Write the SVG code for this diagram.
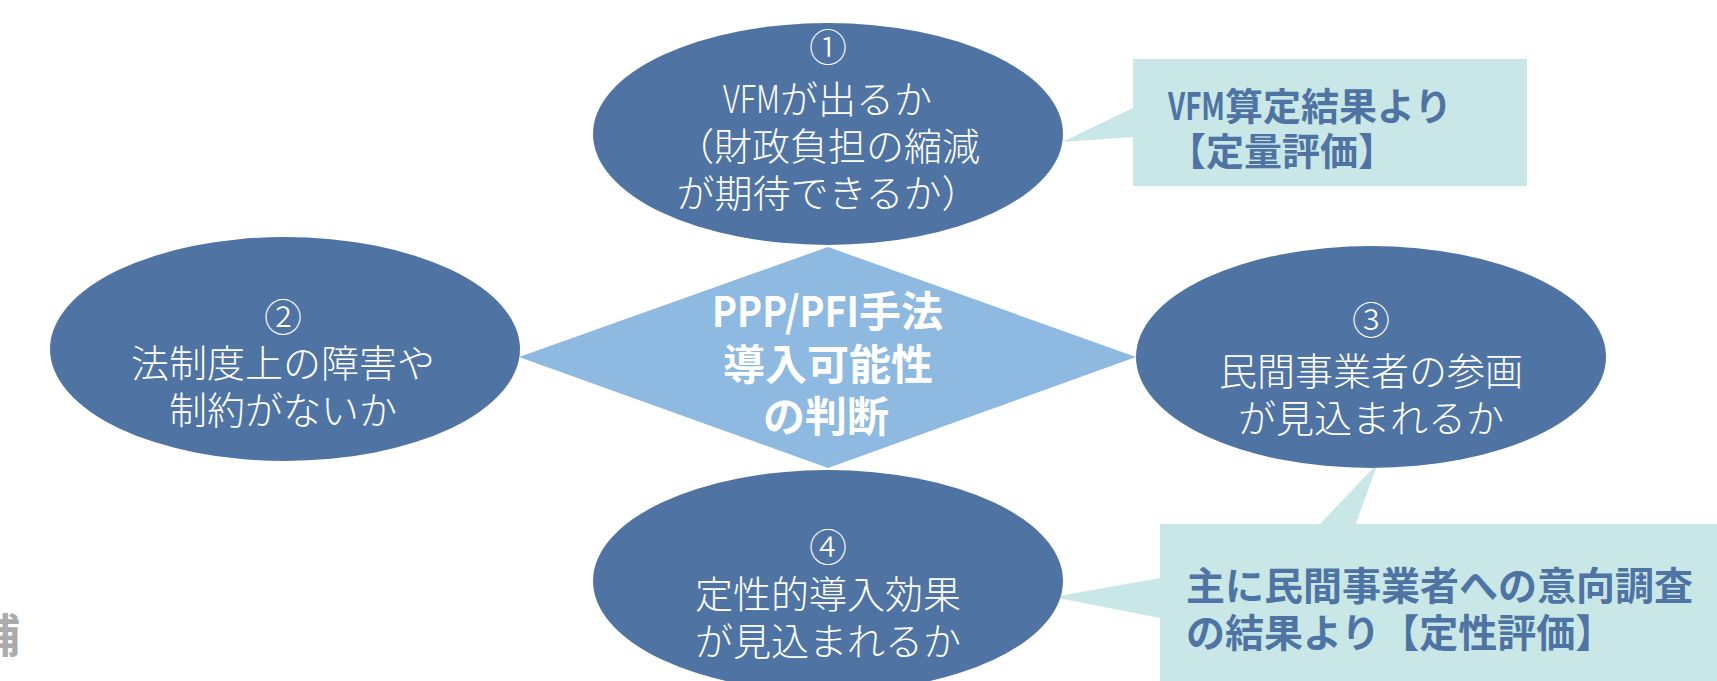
<svg xmlns="http://www.w3.org/2000/svg" width="1717" height="681" viewBox="0 0 1717 681">
<style>
  .ell { fill: #4f74a3; }
  .dia { fill: #8eb9e0; }
  .call { fill: #c9e7e7; }
  .et { font-family: "Noto Sans CJK JP", sans-serif; font-size: 38px; font-weight: 300; fill: #ffffff; text-anchor: middle; }
  .dt { font-family: "Noto Sans CJK JP", sans-serif; font-size: 42px; font-weight: bold; fill: #ffffff; text-anchor: middle; }
  .ct { font-family: "Noto Sans CJK JP", sans-serif; font-weight: bold; fill: #4f74a3; }
  .gray { font-family: "Noto Sans CJK JP", sans-serif; font-size: 46px; font-weight: bold; fill: #ababab; }
</style>
<rect width="1717" height="681" fill="#ffffff"/>

<g id="edge-text">
  <text class="gray" x="-26" y="652">補</text>
</g>

<g id="callout-1">
  <polygon class="call" points="1133,108 1062,142 1133,137"/>
  <rect class="call" x="1133" y="59" width="394" height="127"/>
  <text class="ct" font-size="38" x="1168" y="120"><tspan textLength="57" lengthAdjust="spacingAndGlyphs">VFM</tspan>算定結果より</text>
  <text class="ct" font-size="38" x="1168" y="165">【定量評価】</text>
</g>

<g id="callout-2">
  <polygon class="call" points="1378,463 1318,526 1355,526"/>
  <polygon class="call" points="1160,578 1053,597 1160,618"/>
  <rect class="call" x="1160" y="524" width="560" height="160"/>
  <text class="ct" font-size="39" x="1186" y="600">主に民間事業者への意向調査</text>
  <text class="ct" font-size="39" x="1186" y="647">の結果より【定性評価】</text>
</g>

<g id="center-diamond">
  <polygon class="dia" points="828,247 1136,357 828,468 519,357"/>
  <text class="dt" x="712" y="327" style="text-anchor:start"><tspan textLength="147" lengthAdjust="spacingAndGlyphs">PPP/PFI</tspan>手法</text>
  <text class="dt" x="828" y="380">導入可能性</text>
  <text class="dt" x="826" y="432">の判断</text>
</g>

<g id="node-1">
  <ellipse class="ell" cx="828" cy="134" rx="235" ry="111"/>
  <text class="et" x="828" y="61">①</text>
  <text class="et" x="723" y="113" style="text-anchor:start"><tspan textLength="57" lengthAdjust="spacingAndGlyphs">VFM</tspan>が出るか</text>
  <text class="et" x="828" y="160">（財政負担の縮減</text>
  <text class="et" x="828" y="207">が期待できるか）</text>
</g>

<g id="node-2">
  <ellipse class="ell" cx="285" cy="349" rx="235" ry="112"/>
  <text class="et" x="283" y="331">②</text>
  <text class="et" x="283" y="377">法制度上の障害や</text>
  <text class="et" x="283" y="424">制約がないか</text>
</g>

<g id="node-3">
  <ellipse class="ell" cx="1371" cy="357" rx="235" ry="111"/>
  <text class="et" x="1371" y="334">③</text>
  <text class="et" x="1371" y="385">民間事業者の参画</text>
  <text class="et" x="1371" y="432">が見込まれるか</text>
</g>

<g id="node-4">
  <ellipse class="ell" cx="828" cy="581" rx="235" ry="111"/>
  <text class="et" x="828" y="561">④</text>
  <text class="et" x="828" y="608">定性的導入効果</text>
  <text class="et" x="828" y="655">が見込まれるか</text>
</g>
</svg>
